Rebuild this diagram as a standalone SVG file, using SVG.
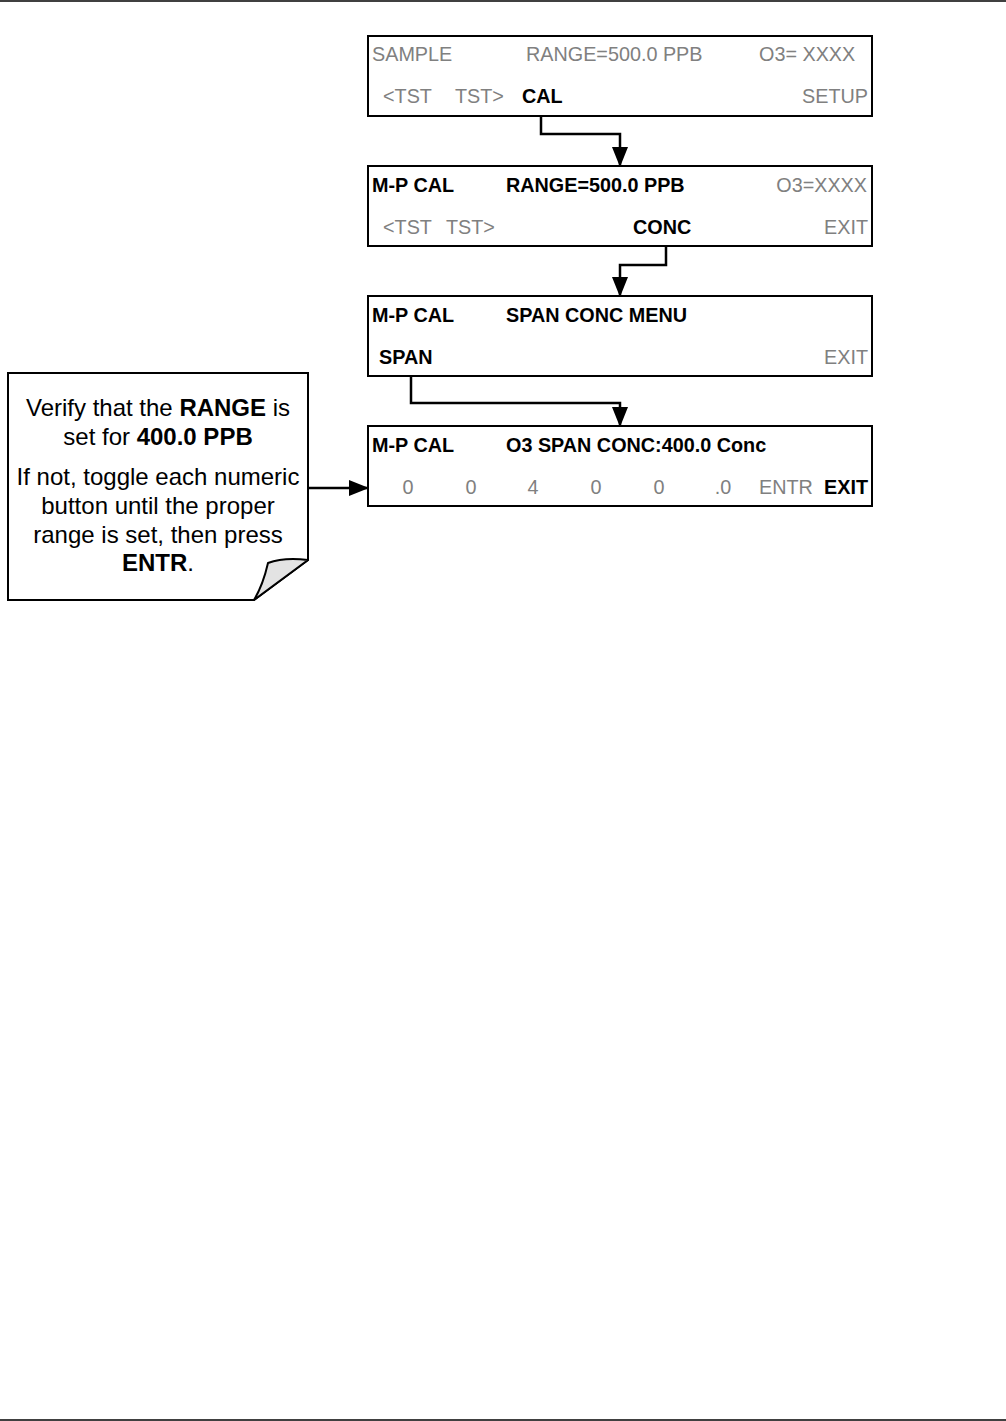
<svg xmlns="http://www.w3.org/2000/svg" width="1006" height="1421" viewBox="0 0 1006 1421">
<style>
.box{fill:#fff;stroke:#000;stroke-width:2}
.t{font-family:"Liberation Sans",Arial,sans-serif;font-size:19.8px}
.g{fill:#808080}
.b{font-weight:bold;fill:#000}
.n{font-family:"Liberation Sans",Arial,sans-serif;font-size:24px;text-anchor:middle;fill:#000}
.c{fill:none;stroke:#000;stroke-width:2.5}
.e{text-anchor:end}
</style>
<defs>
<marker id="ah" markerWidth="20" markerHeight="18" refX="19" refY="9" orient="auto" markerUnits="userSpaceOnUse">
<path d="M0,1 L20,9 L0,17 Z" fill="#000"/>
</marker>
</defs>
<rect x="0" y="0" width="1006" height="1421" fill="#fff"/>
<line x1="0" y1="1" x2="1006" y2="1" stroke="#000" stroke-width="1.5"/>
<line x1="0" y1="1420" x2="1006" y2="1420" stroke="#000" stroke-width="1.5"/>

<g id="screen1">
<rect class="box" x="368" y="36" width="504" height="80"/>
<text class="t g" x="372" y="61">SAMPLE</text>
<text class="t g" x="526" y="61">RANGE=500.0 PPB</text>
<text class="t g" x="759" y="61">O3= XXXX</text>
<text class="t g" x="383" y="103">&lt;TST</text>
<text class="t g" x="455" y="103">TST&gt;</text>
<text class="t b" x="522" y="103">CAL</text>
<text class="t g e" x="868" y="103">SETUP</text>
</g>

<g id="screen2">
<rect class="box" x="368" y="166" width="504" height="80"/>
<text class="t b" x="372" y="192">M-P CAL</text>
<text class="t b" x="506" y="192">RANGE=500.0 PPB</text>
<text class="t g e" x="867" y="192">O3=XXXX</text>
<text class="t g" x="383" y="234">&lt;TST</text>
<text class="t g" x="446" y="234">TST&gt;</text>
<text class="t b" x="633" y="234">CONC</text>
<text class="t g e" x="868" y="234">EXIT</text>
</g>

<g id="screen3">
<rect class="box" x="368" y="296" width="504" height="80"/>
<text class="t b" x="372" y="322">M-P CAL</text>
<text class="t b" x="506" y="322">SPAN CONC MENU</text>
<text class="t b" x="379" y="364">SPAN</text>
<text class="t g e" x="868" y="364">EXIT</text>
</g>

<g id="screen4">
<rect class="box" x="368" y="426" width="504" height="80"/>
<text class="t b" x="372" y="452">M-P CAL</text>
<text class="t b" x="506" y="452">O3 SPAN CONC:400.0 Conc</text>
<text class="t g" x="408" y="494" text-anchor="middle">0</text>
<text class="t g" x="471" y="494" text-anchor="middle">0</text>
<text class="t g" x="533" y="494" text-anchor="middle">4</text>
<text class="t g" x="596" y="494" text-anchor="middle">0</text>
<text class="t g" x="659" y="494" text-anchor="middle">0</text>
<text class="t g" x="723" y="494" text-anchor="middle">.0</text>
<text class="t g" x="759" y="494">ENTR</text>
<text class="t b e" x="868" y="494">EXIT</text>
</g>

<g id="note">
<path d="M8,373 L308,373 L308,560 L254,600 L8,600 Z" fill="#fff" stroke="#000" stroke-width="2"/>
<path d="M308,560 Q284,557 268,563 Q263,585 254,600 Z" fill="#e3e3e3" stroke="#000" stroke-width="2" stroke-linejoin="round"/>
<text class="n" x="158" y="416">Verify that the <tspan font-weight="bold">RANGE</tspan> is</text>
<text class="n" x="158" y="445">set for <tspan font-weight="bold">400.0 PPB</tspan></text>
<text class="n" x="158" y="485">If not, toggle each numeric</text>
<text class="n" x="158" y="514">button until the proper</text>
<text class="n" x="158" y="543">range is set, then press</text>
<text class="n" x="158" y="571"><tspan font-weight="bold">ENTR</tspan>.</text>
</g>

<g id="connectors">
<polyline class="c" points="541,116 541,134 620,134 620,166" marker-end="url(#ah)"/>
<polyline class="c" points="666,246 666,265 620,265 620,296" marker-end="url(#ah)"/>
<polyline class="c" points="411,376 411,403 620,403 620,426" marker-end="url(#ah)"/>
<polyline class="c" points="308,488 368,488" marker-end="url(#ah)"/>
</g>
</svg>
